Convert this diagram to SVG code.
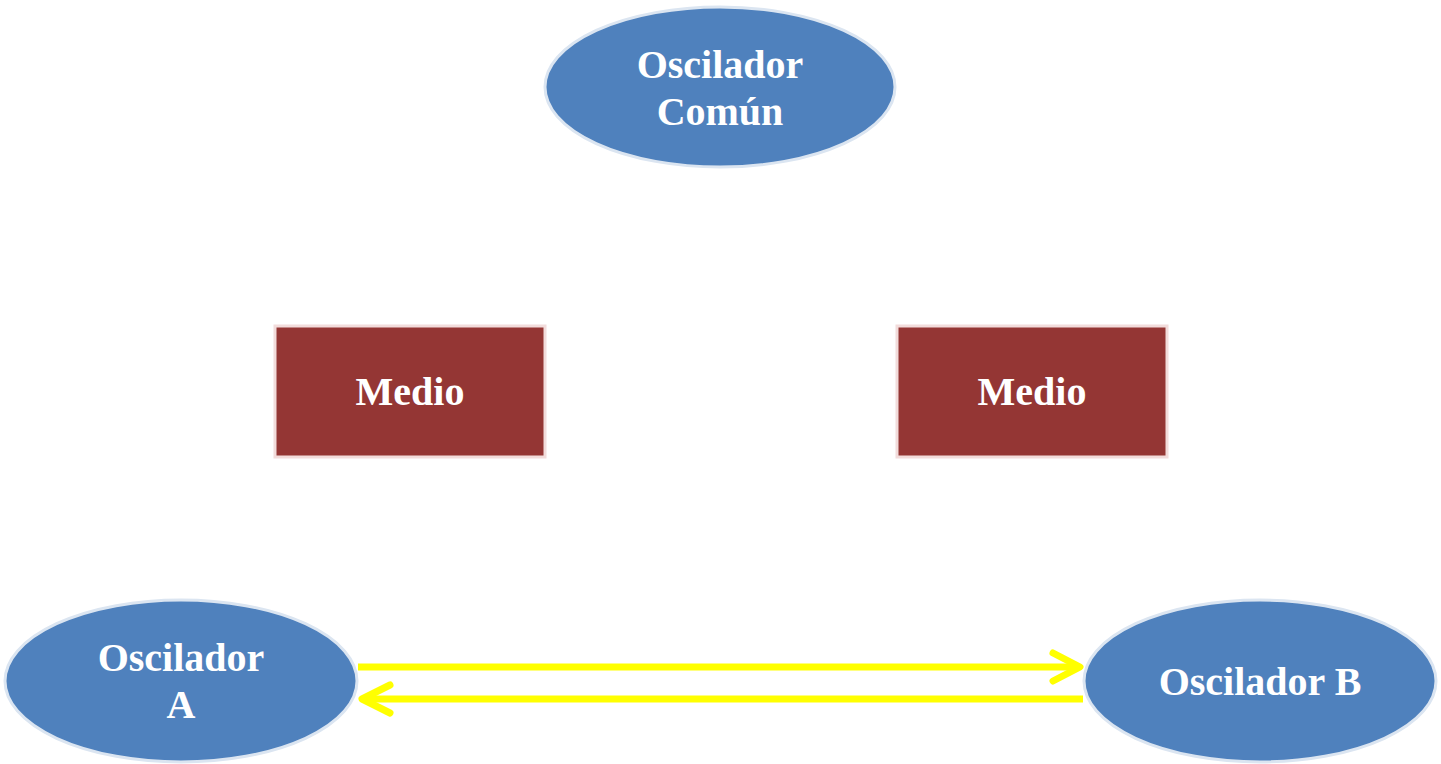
<svg xmlns="http://www.w3.org/2000/svg" width="1441" height="764" viewBox="0 0 1441 764">
<style>
.osc{fill:#4f81bd;stroke:#dbe5f1;stroke-width:3}
.med{fill:#943634;stroke:#f2dcdb;stroke-width:3}
.t{font-family:"Liberation Serif","Times New Roman",serif;font-weight:bold;font-size:40px;fill:#ffffff;text-anchor:middle}
.c{stroke:#ffff00;stroke-width:7;fill:none;stroke-linecap:round;stroke-linejoin:round}
</style>
<rect width="1441" height="764" fill="#ffffff"/>
<g id="comun">
<ellipse class="osc" cx="720" cy="87" rx="175" ry="80"/>
<text class="t" x="720" y="78">Oscilador</text>
<text class="t" x="720" y="125">Común</text>
</g>
<g id="medio1">
<rect class="med" x="275" y="326" width="270" height="131"/>
<text class="t" x="410" y="405">Medio</text>
</g>
<g id="medio2">
<rect class="med" x="897" y="326" width="270" height="131"/>
<text class="t" x="1032" y="405">Medio</text>
</g>
<g id="oscA">
<ellipse class="osc" cx="181" cy="681" rx="176" ry="81"/>
<text class="t" x="181" y="671">Oscilador</text>
<text class="t" x="181" y="718">A</text>
</g>
<g id="oscB">
<ellipse class="osc" cx="1260" cy="681" rx="176" ry="81"/>
<text class="t" x="1260" y="695">Oscilador B</text>
</g>
<g id="connectors">
<path class="c" d="M358 667 H1078" style="stroke-linecap:butt"/>
<path class="c" d="M1053 653 L1080 667 L1053 681"/>
<path class="c" d="M1083 699 H364" style="stroke-linecap:butt"/>
<path class="c" d="M390 685 L362 699 L390 713"/>
</g>
</svg>
